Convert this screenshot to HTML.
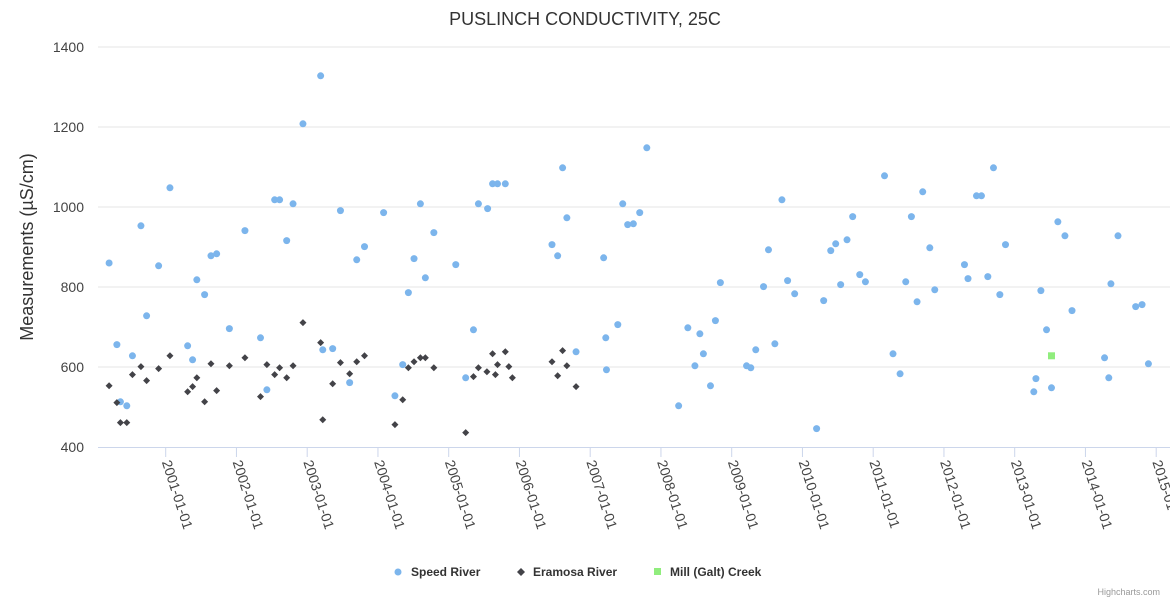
<!DOCTYPE html>
<html><head><meta charset="utf-8"><style>
html,body{margin:0;padding:0;background:#fff;}
svg{display:block;font-family:"Liberation Sans",sans-serif;}
</style></head><body>
<svg id="chart" width="1170" height="600" viewBox="0 0 1170 600" xmlns="http://www.w3.org/2000/svg">
<text x="585" y="25" text-anchor="middle" font-size="18" fill="#333">PUSLINCH CONDUCTIVITY, 25C</text>
<text transform="translate(33,247) rotate(-90)" text-anchor="middle" font-size="18" fill="#333">Measurements (µS/cm)</text>
<g id="grid"></g><g id="xaxis"></g><g id="marks"></g>
<g>
<g><circle cx="398" cy="572" r="3.5" fill="#7cb5ec"/><text x="411" y="576" font-size="12" font-weight="bold" fill="#333">Speed River</text></g>
<g><path d="M521 568 L525 572 L521 576 L517 572 Z" fill="#434348"/><text x="533" y="576" font-size="12" font-weight="bold" fill="#333">Eramosa River</text></g>
<g><rect x="654" y="568" width="7" height="7" fill="#90ed7d"/><text x="670" y="576" font-size="12" font-weight="bold" fill="#333">Mill (Galt) Creek</text></g>
</g>
<text x="1160" y="595" text-anchor="end" font-size="9" fill="#999">Highcharts.com</text>
</svg>
<script>
const speedDates=[2000.20,2000.31,2000.36,2000.45,2000.53,2000.65,2000.73,2000.90,2001.06,2001.31,2001.38,2001.44,2001.55,2001.64,2001.72,2001.90,2002.12,2002.34,2002.43,2002.54,2002.61,2002.71,2002.80,2002.94,2003.19,2003.22,2003.36,2003.47,2003.60,2003.70,2003.81,2004.08,2004.24,2004.35,2004.43,2004.51,2004.60,2004.67,2004.79,2005.10,2005.24,2005.35,2005.42,2005.55,2005.62,2005.69,2005.80,2006.46,2006.54,2006.61,2006.67,2006.80,2007.19,2007.22,2007.23,2007.39,2007.46,2007.53,2007.61,2007.70,2007.80,2008.25,2008.38,2008.48,2008.55,2008.60,2008.70,2008.77,2008.84,2009.21,2009.27,2009.34,2009.45,2009.52,2009.61,2009.71,2009.79,2009.89,2010.20,2010.30,2010.40,2010.47,2010.54,2010.63,2010.71,2010.81,2010.89,2011.16,2011.28,2011.38,2011.46,2011.54,2011.62,2011.70,2011.80,2011.87,2012.29,2012.34,2012.46,2012.53,2012.62,2012.70,2012.79,2012.87,2013.27,2013.30,2013.37,2013.45,2013.52,2013.61,2013.71,2013.81,2014.27,2014.33,2014.36,2014.46,2014.71,2014.80,2014.89];
const speedValues=[860,656,513,503,628,953,728,853,1048,653,618,818,781,878,883,696,941,673,543,1018,1018,916,1008,1208,1328,643,646,991,561,868,901,986,528,606,786,871,1008,823,936,856,573,693,1008,996,1058,1058,1058,906,878,1098,973,638,873,673,593,706,1008,956,958,986,1148,503,698,603,683,633,553,716,811,603,598,643,801,893,658,1018,816,783,446,766,891,908,806,918,976,831,813,1078,633,583,813,976,763,1038,898,793,856,821,1028,1028,826,1098,781,906,538,571,791,693,548,963,928,741,623,573,808,928,751,756,608];
const eramosaDates=[2000.20,2000.31,2000.36,2000.45,2000.53,2000.65,2000.73,2000.90,2001.06,2001.31,2001.38,2001.44,2001.55,2001.64,2001.72,2001.90,2002.12,2002.34,2002.43,2002.54,2002.61,2002.71,2002.80,2002.94,2003.19,2003.22,2003.36,2003.47,2003.60,2003.70,2003.81,2004.24,2004.35,2004.43,2004.51,2004.60,2004.67,2004.79,2005.24,2005.35,2005.42,2005.54,2005.62,2005.66,2005.69,2005.80,2005.85,2005.90,2006.46,2006.54,2006.61,2006.67,2006.80];
const eramosaValues=[553,511,461,461,581,601,566,596,628,538,551,573,513,608,541,603,623,526,606,581,598,573,603,711,661,468,558,611,583,613,628,456,518,598,613,623,623,598,436,576,598,588,633,581,606,638,601,573,613,578,641,603,551];
const millDates=[2013.52];
const millValues=[628];
const yTicks=[400,600,800,1000,1200,1400];
const xTickYears=[2001,2002,2003,2004,2005,2006,2007,2008,2009,2010,2011,2012,2013,2014,2015];
const xTickLabels=["2001-01-01","2002-01-01","2003-01-01","2004-01-01","2005-01-01","2006-01-01","2007-01-01","2008-01-01","2009-01-01","2010-01-01","2011-01-01","2012-01-01","2013-01-01","2014-01-01","2015-01-01"];

const NS="http://www.w3.org/2000/svg";
const L=98,R=1170,T=47,B=447;
function xs(yr){return 165.7+(yr-2001)*70.75;}
function ys(v){return B-(v-400)/1000*(B-T);}
function mk(tag,attrs,parent){const e=document.createElementNS(NS,tag);for(const k in attrs)e.setAttribute(k,attrs[k]);parent.appendChild(e);return e;}
const grid=document.getElementById('grid'),xa=document.getElementById('xaxis'),marks=document.getElementById('marks');
yTicks.forEach(v=>{
  const y=ys(v);
  if(v>400){const g=mk('line',{x1:L,x2:R,y1:y,y2:y,stroke:'#e6e6e6','stroke-width':1},grid);
  
  }
  const t=mk('text',{x:84,y:y+5,'text-anchor':'end','font-size':14,fill:'#444'},grid);
  
  
  t.textContent=v;
});
const ax=mk('line',{x1:L,x2:R,y1:B+0.5,y2:B+0.5,stroke:'#ccd6eb','stroke-width':1},xa);


xTickYears.forEach((yr,i)=>{
  const x=xs(yr);
  const tk=mk('line',{x1:x,x2:x,y1:B,y2:B+10,stroke:'#ccd6eb','stroke-width':1},xa);
  
  
  const t=mk('text',{transform:`translate(${x-4},${B+15}) rotate(72)`,'font-size':14,fill:'#444'},xa);
  
  
  t.textContent=xTickLabels[i];
});
speedDates.forEach((d,i)=>{
  const c=mk('circle',{cx:xs(d),cy:ys(speedValues[i]),r:3.5,fill:'#7cb5ec'},marks);
  
  
});
eramosaDates.forEach((d,i)=>{
  const x=xs(d),y=ys(eramosaValues[i]);
  const p=mk('path',{d:`M${x} ${y-3.5} L${x+3.5} ${y} L${x} ${y+3.5} L${x-3.5} ${y} Z`,fill:'#434348'},marks);
  
  
});
millDates.forEach((d,i)=>{
  const x=xs(d),y=ys(millValues[i]);
  const r=mk('rect',{x:x-3.5,y:y-3.5,width:7,height:7,fill:'#90ed7d'},marks);
  
  
});
</script>
</body></html>
